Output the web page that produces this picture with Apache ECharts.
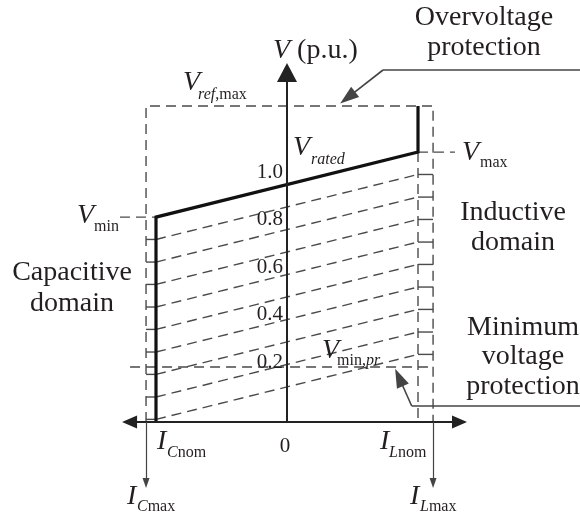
<!DOCTYPE html>
<html><head><meta charset="utf-8">
<script src="https://cdn.jsdelivr.net/npm/echarts@6/dist/echarts.min.js"></script>
<style>html,body{margin:0;padding:0;background:#fff}#c{width:580px;height:518px}</style>
</head><body><div id="c"></div>
<script>
// ---- values (current: multiples of nominal, voltage: p.u.) ----
const V_MIN = 0.861, V_MAX = 1.134, V_REF_MAX = 1.328, V_MIN_PR = 0.231;
const I_CNOM = -1, I_LNOM = 1, I_CMAX = -1.076, I_LMAX = 1.115;
const charI = [I_CNOM, I_CNOM, I_LNOM, I_LNOM];
const charV = [0, V_MIN, V_MAX, V_REF_MAX];
const boxI = [I_CMAX, I_CMAX, I_LMAX, I_LMAX];
const boxV = [0, V_REF_MAX, V_REF_MAX, 0];
const lnomI = [I_LNOM, I_LNOM];
const lnomV = [V_MAX, 0];
const slantLeftV  = [0.767, 0.672, 0.578, 0.483, 0.389, 0.294, 0.200, 0.105, 0.011];
const slantRightV = [1.040, 0.945, 0.851, 0.756, 0.662, 0.567, 0.473, 0.378, 0.284];
const vmaxTickI = [I_LNOM, 1.282];
const vminTickI = [-1.275, I_CNOM];
const vminPrI = [-1.198, 1.076];
const vAxisTop = 1.468;
const iAxisLeft = -1.202, iAxisRight = 1.317;
const maxArrowV = -0.256;
const overLeaderI = [2.237, 0.733, 0.463];
const overLeaderV = [1.479, 1.479, 1.363];
const minLeaderI = [2.237, 0.952, 0.855];
const minLeaderV = [0.067, 0.067, 0.187];
const vTicks = [0.2, 0.4, 0.6, 0.8, 1.0];
const vTickLabels = ['0.2', '0.4', '0.6', '0.8', '1.0'];
const iTicks = [0];
const iTickLabels = ['0'];

// ---- styling ----
const INK = '#231f20', DASH = '#4a4a4a', FONT = '"Liberation Serif", "Times New Roman", serif';
const dashStyle = { color: DASH, width: 1.4, type: [10, 6] };

function zip(xs, ys) { return xs.map((x, i) => [x, ys[i]]); }
function poly(xs, ys, lineStyle, z) {
  return { type: 'line', data: zip(xs, ys), showSymbol: false, symbol: 'none', silent: true,
    clip: false, z: z || 2, lineStyle: Object.assign({ join: 'miter', cap: 'butt' }, lineStyle) };
}
function arrowLines(segs, color, width, size, z) {
  return { type: 'lines', coordinateSystem: 'cartesian2d', silent: true, z: z || 3,
    symbol: ['none', 'triangle'], symbolSize: [0, size],
    lineStyle: { color: color, width: width, opacity: 1, type: 'solid' },
    data: segs.map(s => ({ coords: s })) };
}

const series = [];
// slanted dashed characteristics
for (let k = 0; k < slantLeftV.length; k++) {
  series.push(poly([I_CNOM, I_LNOM], [slantLeftV[k], slantRightV[k]], dashStyle));
  series.push(poly([I_CMAX, I_CNOM], [slantLeftV[k], slantLeftV[k]], { color: DASH, width: 1.4 }));
  series.push(poly([I_LNOM, I_LMAX], [slantRightV[k], slantRightV[k]], { color: DASH, width: 1.4 }));
}
series.push(poly(boxI, boxV, dashStyle));
series.push(poly(lnomI, lnomV, dashStyle));
series.push(poly(vmaxTickI, [V_MAX, V_MAX], dashStyle));
series.push(poly(vminTickI, [V_MIN, V_MIN], dashStyle));
series.push(poly(vminPrI, [V_MIN_PR, V_MIN_PR], dashStyle));
// thick characteristic
series.push(poly(charI, charV, { color: '#111', width: 3.2 }, 5));
// axes with arrows
series.push(arrowLines([[[0, 0], [0, vAxisTop]]], '#222', 2, [20, 19], 6));
series.push(arrowLines([[[0, 0], [iAxisLeft, 0]], [[0, 0], [iAxisRight, 0]]], '#222', 2, [13, 15], 6));
series.push(arrowLines([[[I_CMAX, 0], [I_CMAX, maxArrowV]], [[I_LMAX, 0], [I_LMAX, maxArrowV]]], '#444', 1.2, [7, 10], 6));
// leaders
series.push(poly(overLeaderI.slice(0, 2), overLeaderV.slice(0, 2), { color: '#444', width: 1.6 }, 6));
series.push(arrowLines([[[overLeaderI[1], overLeaderV[1]], [overLeaderI[2], overLeaderV[2]]]], '#444', 1.6, [13, 19], 6));
series.push(poly(minLeaderI.slice(0, 2), minLeaderV.slice(0, 2), { color: '#444', width: 1.6 }, 6));
series.push(arrowLines([[[minLeaderI[1], minLeaderV[1]], [minLeaderI[2], minLeaderV[2]]]], '#444', 1.6, [13, 19], 6));

// ---- text ----
const BIG = 28, SUB = 16, TICK = 21;
function rich(size) {
  return {
    i: { fontStyle: 'italic', fontSize: size, fontFamily: FONT, fill: INK, color: INK },
    r: { fontStyle: 'normal', fontSize: size, fontFamily: FONT, fill: INK, color: INK }
  };
}
function txt(x, y, text, size, align, useRich) {
  return { type: 'text', x: x, y: y, z: 100, silent: true,
    style: { text: text, fontSize: size, fontFamily: FONT, fill: INK,
      align: align || 'left', verticalAlign: 'middle', rich: useRich ? rich(size) : undefined } };
}
const texts = [
  txt(273, 50.5, '{i|V}{r| (p.u.)}', BIG, 'left', true),
  txt(484, 17.5, 'Overvoltage', BIG, 'center'),
  txt(484, 47.5, 'protection', BIG, 'center'),
  txt(513, 212.5, 'Inductive', BIG, 'center'),
  txt(513, 242.5, 'domain', BIG, 'center'),
  txt(72, 272.5, 'Capacitive', BIG, 'center'),
  txt(72, 303.5, 'domain', BIG, 'center'),
  txt(523, 327.5, 'Minimum', BIG, 'center'),
  txt(523, 356.5, 'voltage', BIG, 'center'),
  txt(523, 386.5, 'protection', BIG, 'center'),
  // symbols with subscripts
  txt(183, 82.5, '{i|V}', BIG, 'left', true), txt(198, 94.6, '{i|ref}{r|,max}', SUB, 'left', true),
  txt(293, 147.5, '{i|V}', BIG, 'left', true), txt(311, 159.6, '{i|rated}', SUB, 'left', true),
  txt(462, 152.5, '{i|V}', BIG, 'left', true), txt(480, 162.6, '{r|max}', SUB, 'left', true),
  txt(77, 215.5, '{i|V}', BIG, 'left', true), txt(94, 226.6, '{r|min}', SUB, 'left', true),
  txt(322, 350.5, '{i|V}', BIG, 'left', true), txt(337, 360.6, '{r|min,}{i|pr}', SUB, 'left', true),
  txt(157, 441.5, '{i|I}', BIG, 'left', true), txt(167, 452.6, '{i|C}{r|nom}', SUB, 'left', true),
  txt(380, 441.5, '{i|I}', BIG, 'left', true), txt(389, 452.6, '{i|L}{r|nom}', SUB, 'left', true),
  txt(127, 496.5, '{i|I}', BIG, 'left', true), txt(137, 506.6, '{i|C}{r|max}', SUB, 'left', true),
  txt(410, 496.5, '{i|I}', BIG, 'left', true), txt(420, 506.6, '{i|L}{r|max}', SUB, 'left', true)
];

const chart = echarts.init(document.getElementById('c'), null, { renderer: 'canvas' });
chart.setOption({
  animation: false,
  backgroundColor: '#fff',
  grid: { left: 0, right: 0, top: 0, bottom: 0, containLabel: false, outerBoundsMode: 'none' },
  xAxis: { type: 'value', min: -2.1908, max: 2.2366, show: false },
  yAxis: { type: 'value', min: -0.4034, max: 1.7731, show: false },
  series: series,
  graphic: { elements: texts }
});

// tick labels placed through the axes' own scales
const tickTexts = [];
vTicks.forEach((v, i) => {
  const p = chart.convertToPixel({ gridIndex: 0 }, [0, v]);
  tickTexts.push(txt(p[0] - 4, p[1] - 12, vTickLabels[i], TICK, 'right'));
});
iTicks.forEach((v, i) => {
  const p = chart.convertToPixel({ gridIndex: 0 }, [v, 0]);
  tickTexts.push(txt(p[0] - 2, p[1] + 24, iTickLabels[i], TICK, 'center'));
});
chart.setOption({ graphic: { elements: texts.concat(tickTexts) } });
</script></body></html>
